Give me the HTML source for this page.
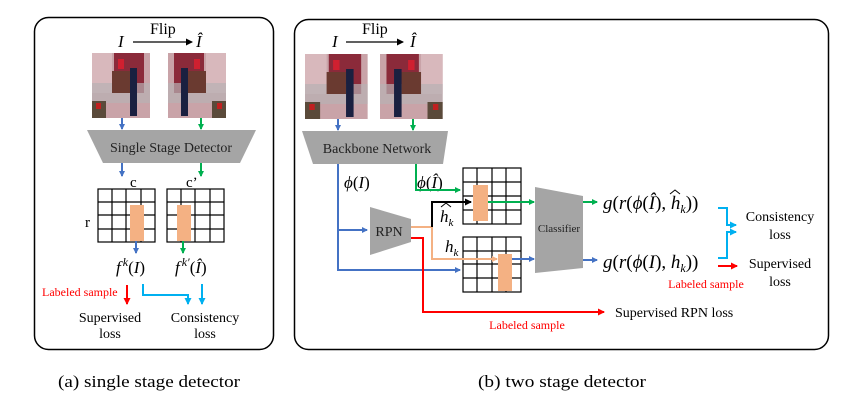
<!DOCTYPE html>
<html><head><meta charset="utf-8"><style>
html,body{margin:0;padding:0;background:#fff}
svg{display:block}
text{font-family:"Liberation Serif",serif}
</style></head><body>
<svg width="857" height="409" viewBox="0 0 857 409" xmlns="http://www.w3.org/2000/svg">
<defs>
<marker id="ab" markerWidth="6" markerHeight="6" refX="5" refY="3" orient="auto" markerUnits="userSpaceOnUse"><path d="M0,0 L6,3 L0,6z" fill="#4472c4"/></marker>
<marker id="ag" markerWidth="6" markerHeight="6" refX="5" refY="3" orient="auto" markerUnits="userSpaceOnUse"><path d="M0,0 L6,3 L0,6z" fill="#00b050"/></marker>
<marker id="ak" markerWidth="7" markerHeight="7" refX="6" refY="3.5" orient="auto" markerUnits="userSpaceOnUse"><path d="M0,0 L7,3.5 L0,7z" fill="#000"/></marker>
<marker id="ar" markerWidth="7" markerHeight="7" refX="6" refY="3.5" orient="auto" markerUnits="userSpaceOnUse"><path d="M0,0 L7,3.5 L0,7z" fill="#ff0000"/></marker>
<marker id="ac" markerWidth="7" markerHeight="7" refX="6" refY="3.5" orient="auto" markerUnits="userSpaceOnUse"><path d="M0,0 L7,3.5 L0,7z" fill="#00b0f0"/></marker>
<marker id="ao" markerWidth="6" markerHeight="6" refX="5" refY="3" orient="auto" markerUnits="userSpaceOnUse"><path d="M0,0 L6,3 L0,6z" fill="#f4b183"/></marker>
<g id="img">
<rect x="0" y="0" width="58" height="65" fill="#c9a3a8"/>
<rect x="0" y="0" width="20" height="40" fill="#d8b8bc"/>
<rect x="22" y="0" width="30" height="40" fill="#8b2a3a"/>
<rect x="0" y="30" width="58" height="20" fill="#b8b0b4" opacity="0.7"/>
<rect x="20" y="18" width="18" height="22" fill="#6a3a30"/>
<rect x="26" y="6" width="6" height="10" fill="#d02030"/>
<rect x="38" y="15" width="7" height="48" fill="#1a2040"/>
<rect x="0" y="48" width="14" height="17" fill="#5a4a3a"/>
<rect x="4" y="50" width="5" height="6" fill="#c02020"/>
</g>
<g id="img2" transform="translate(58,0) scale(-1,1)"><use href="#img"/></g>
</defs>

<rect x="34.5" y="17.5" width="239" height="332" rx="14" fill="none" stroke="#000" stroke-width="1.5"/>
<rect x="294.5" y="19.5" width="534" height="330" rx="14" fill="none" stroke="#000" stroke-width="1.5"/>

<!-- LEFT -->
<text x="118" y="47" font-size="17" font-style="italic">I</text>
<text x="150" y="34" font-size="16">Flip</text>
<line x1="133" y1="42" x2="192" y2="42" stroke="#000" stroke-width="1.3" marker-end="url(#ak)"/>
<text x="196" y="47" font-size="17" font-style="italic">Î</text>
<use href="#img" transform="translate(92,53)"/>
<use href="#img2" transform="translate(168,53)"/>
<line x1="122" y1="118" x2="122" y2="129" stroke="#4472c4" stroke-width="2" marker-end="url(#ab)"/>
<line x1="201" y1="118" x2="201" y2="129" stroke="#00b050" stroke-width="2" marker-end="url(#ag)"/>
<polygon points="87,130 256,130 240,163 103,163" fill="#a5a5a5"/>
<text x="171" y="152" font-size="14" text-anchor="middle" fill="#222">Single Stage Detector</text>
<line x1="122" y1="163" x2="122" y2="176" stroke="#4472c4" stroke-width="2" marker-end="url(#ab)"/>
<line x1="201" y1="163" x2="201" y2="176" stroke="#00b050" stroke-width="2" marker-end="url(#ag)"/>
<text x="130" y="187" font-size="15">c</text>
<text x="186" y="187" font-size="15">c’</text>
<text x="85" y="227" font-size="15">r</text>
<g stroke="#000" stroke-width="1.2" fill="none">
<rect x="98" y="189" width="57" height="53"/>
<path d="M112,189V242M126,189V242M141,189V242M98,202H155M98,215H155M98,229H155"/>
<rect x="167" y="189" width="57" height="53"/>
<path d="M181,189V242M195,189V242M210,189V242M167,202H224M167,215H224M167,229H224"/>
</g>
<rect x="130" y="205" width="14" height="36" fill="#f4b183"/>
<rect x="177" y="205" width="14" height="36" fill="#f4b183"/>
<line x1="136" y1="241" x2="136" y2="253" stroke="#4472c4" stroke-width="2" marker-end="url(#ab)"/>
<line x1="183" y1="241" x2="183" y2="253" stroke="#00b050" stroke-width="2" marker-end="url(#ag)"/>
<text x="116" y="273" font-size="17" font-style="italic">f<tspan font-size="12" dy="-7" dx="2">k</tspan><tspan dy="7" font-style="normal">(</tspan>I<tspan font-style="normal">)</tspan></text>
<text x="175" y="273" font-size="17" font-style="italic">f<tspan font-size="12" dy="-7" dx="2">k′</tspan><tspan dy="7" font-style="normal">(</tspan>Î<tspan font-style="normal">)</tspan></text>
<text x="42" y="296" font-size="12" fill="#ff0000">Labeled sample</text>
<line x1="127" y1="285" x2="127" y2="304" stroke="#ff0000" stroke-width="2" marker-end="url(#ar)"/>
<polyline points="143,284 143,295 188,295 188,304" fill="none" stroke="#00b0f0" stroke-width="2" marker-end="url(#ac)"/>
<line x1="202" y1="284" x2="202" y2="304" stroke="#00b0f0" stroke-width="2" marker-end="url(#ac)"/>
<text x="110" y="322" font-size="14" text-anchor="middle">Supervised</text>
<text x="110" y="338" font-size="14" text-anchor="middle">loss</text>
<text x="205" y="322" font-size="14" text-anchor="middle">Consistency</text>
<text x="205" y="338" font-size="14" text-anchor="middle">loss</text>

<!-- RIGHT -->
<text x="332" y="47" font-size="17" font-style="italic">I</text>
<text x="362" y="34" font-size="16">Flip</text>
<line x1="346" y1="42" x2="403" y2="42" stroke="#000" stroke-width="1.3" marker-end="url(#ak)"/>
<text x="410" y="47" font-size="17" font-style="italic">Î</text>
<use href="#img" transform="translate(305,54) scale(1.08,1)"/>
<use href="#img2" transform="translate(380,54) scale(1.08,1)"/>
<line x1="338" y1="119" x2="338" y2="130" stroke="#4472c4" stroke-width="2" marker-end="url(#ab)"/>
<line x1="413" y1="119" x2="413" y2="130" stroke="#00b050" stroke-width="2" marker-end="url(#ag)"/>
<polygon points="302,131 448,131 443,164 313,164" fill="#a5a5a5"/>
<text x="377" y="153" font-size="14" text-anchor="middle" fill="#222">Backbone Network</text>
<text x="344" y="188" font-size="17" font-style="italic">ϕ<tspan font-style="normal">(</tspan>I<tspan font-style="normal">)</tspan></text>
<text x="417" y="188" font-size="17" font-style="italic">ϕ<tspan font-style="normal">(</tspan>Î<tspan font-style="normal">)</tspan></text>

<polyline points="338,164 338,270 460,270" fill="none" stroke="#4472c4" stroke-width="2" marker-end="url(#ab)"/>
<polyline points="338,230 367,230" fill="none" stroke="#4472c4" stroke-width="2" marker-end="url(#ab)"/>
<polyline points="416,164 416,190 460,190" fill="none" stroke="#00b050" stroke-width="2" marker-end="url(#ag)"/>

<g stroke="#000" stroke-width="1.2" fill="none">
<rect x="463" y="168" width="58" height="56"/>
<path d="M477,168V224M492,168V224M506,168V224M463,182H521M463,196H521M463,210H521"/>
<rect x="463" y="237" width="58" height="55"/>
<path d="M477,237V292M492,237V292M506,237V292M463,251H521M463,264H521M463,278H521"/>
</g>
<rect x="473" y="185" width="15" height="36" fill="#f4b183"/>
<rect x="498" y="254" width="14" height="37" fill="#f4b183"/>

<polygon points="370,207 411,219 411,242 370,255" fill="#a5a5a5"/>
<text x="389" y="236" font-size="14" text-anchor="middle" fill="#222">RPN</text>

<polyline points="411,227 432,227 432,259 497,259" fill="none" stroke="#f4b183" stroke-width="2" marker-end="url(#ao)"/>
<polyline points="432,227 432,202 471,202" fill="none" stroke="#000" stroke-width="2" marker-end="url(#ak)"/>
<polyline points="411,238 423,238 423,312 604,312" fill="none" stroke="#ff0000" stroke-width="2" marker-end="url(#ar)"/>

<text x="440" y="222" font-size="17" font-style="italic">h<tspan font-size="11" dy="4">k</tspan></text>
<path d="M441,207 L446,203 L451,207" fill="none" stroke="#000" stroke-width="1"/>
<text x="445" y="252" font-size="17" font-style="italic">h<tspan font-size="11" dy="4">k</tspan></text>

<line x1="488" y1="202" x2="534" y2="202" stroke="#00b050" stroke-width="2" marker-end="url(#ag)"/>
<line x1="512" y1="259" x2="534" y2="259" stroke="#4472c4" stroke-width="2" marker-end="url(#ab)"/>
<polygon points="535,187 583,196 583,268 535,273" fill="#a5a5a5"/>
<text x="559" y="232" font-size="11" text-anchor="middle" fill="#222">Classifier</text>
<line x1="583" y1="202" x2="597" y2="202" stroke="#00b050" stroke-width="2" marker-end="url(#ag)"/>
<line x1="583" y1="260" x2="597" y2="260" stroke="#4472c4" stroke-width="2" marker-end="url(#ab)"/>

<text x="603" y="209" font-size="19" font-style="italic">g<tspan font-style="normal">(</tspan>r<tspan font-style="normal">(</tspan>ϕ<tspan font-style="normal">(</tspan>Î<tspan font-style="normal">), </tspan>h<tspan font-size="12" dy="4">k</tspan><tspan dy="-4" font-style="normal">))</tspan></text>
<path d="M670,194 L675,190 L680,194" fill="none" stroke="#000" stroke-width="1"/>
<text x="603" y="268" font-size="19" font-style="italic">g<tspan font-style="normal">(</tspan>r<tspan font-style="normal">(</tspan>ϕ<tspan font-style="normal">(</tspan>I<tspan font-style="normal">), </tspan>h<tspan font-size="12" dy="4">k</tspan><tspan dy="-4" font-style="normal">))</tspan></text>

<polyline points="718,208 727,208 727,225 736,225" fill="none" stroke="#00b0f0" stroke-width="2" marker-end="url(#ac)"/>
<polyline points="718,258 727,258 727,232 736,232" fill="none" stroke="#00b0f0" stroke-width="2" marker-end="url(#ac)"/>
<line x1="718" y1="266" x2="737" y2="266" stroke="#ff0000" stroke-width="2" marker-end="url(#ar)"/>
<text x="780" y="221" font-size="14" text-anchor="middle">Consistency</text>
<text x="780" y="239" font-size="14" text-anchor="middle">loss</text>
<text x="780" y="268" font-size="14" text-anchor="middle">Supervised</text>
<text x="780" y="286" font-size="14" text-anchor="middle">loss</text>
<text x="706" y="288" font-size="12" text-anchor="middle" fill="#ff0000">Labeled sample</text>
<text x="615" y="317" font-size="14">Supervised RPN loss</text>
<text x="527" y="329" font-size="12" text-anchor="middle" fill="#ff0000">Labeled sample</text>

<text x="58" y="387" font-size="17" textLength="182" lengthAdjust="spacingAndGlyphs">(a) single stage detector</text>
<text x="478" y="387" font-size="17" textLength="168" lengthAdjust="spacingAndGlyphs">(b) two stage detector</text>
</svg>
</body></html>
